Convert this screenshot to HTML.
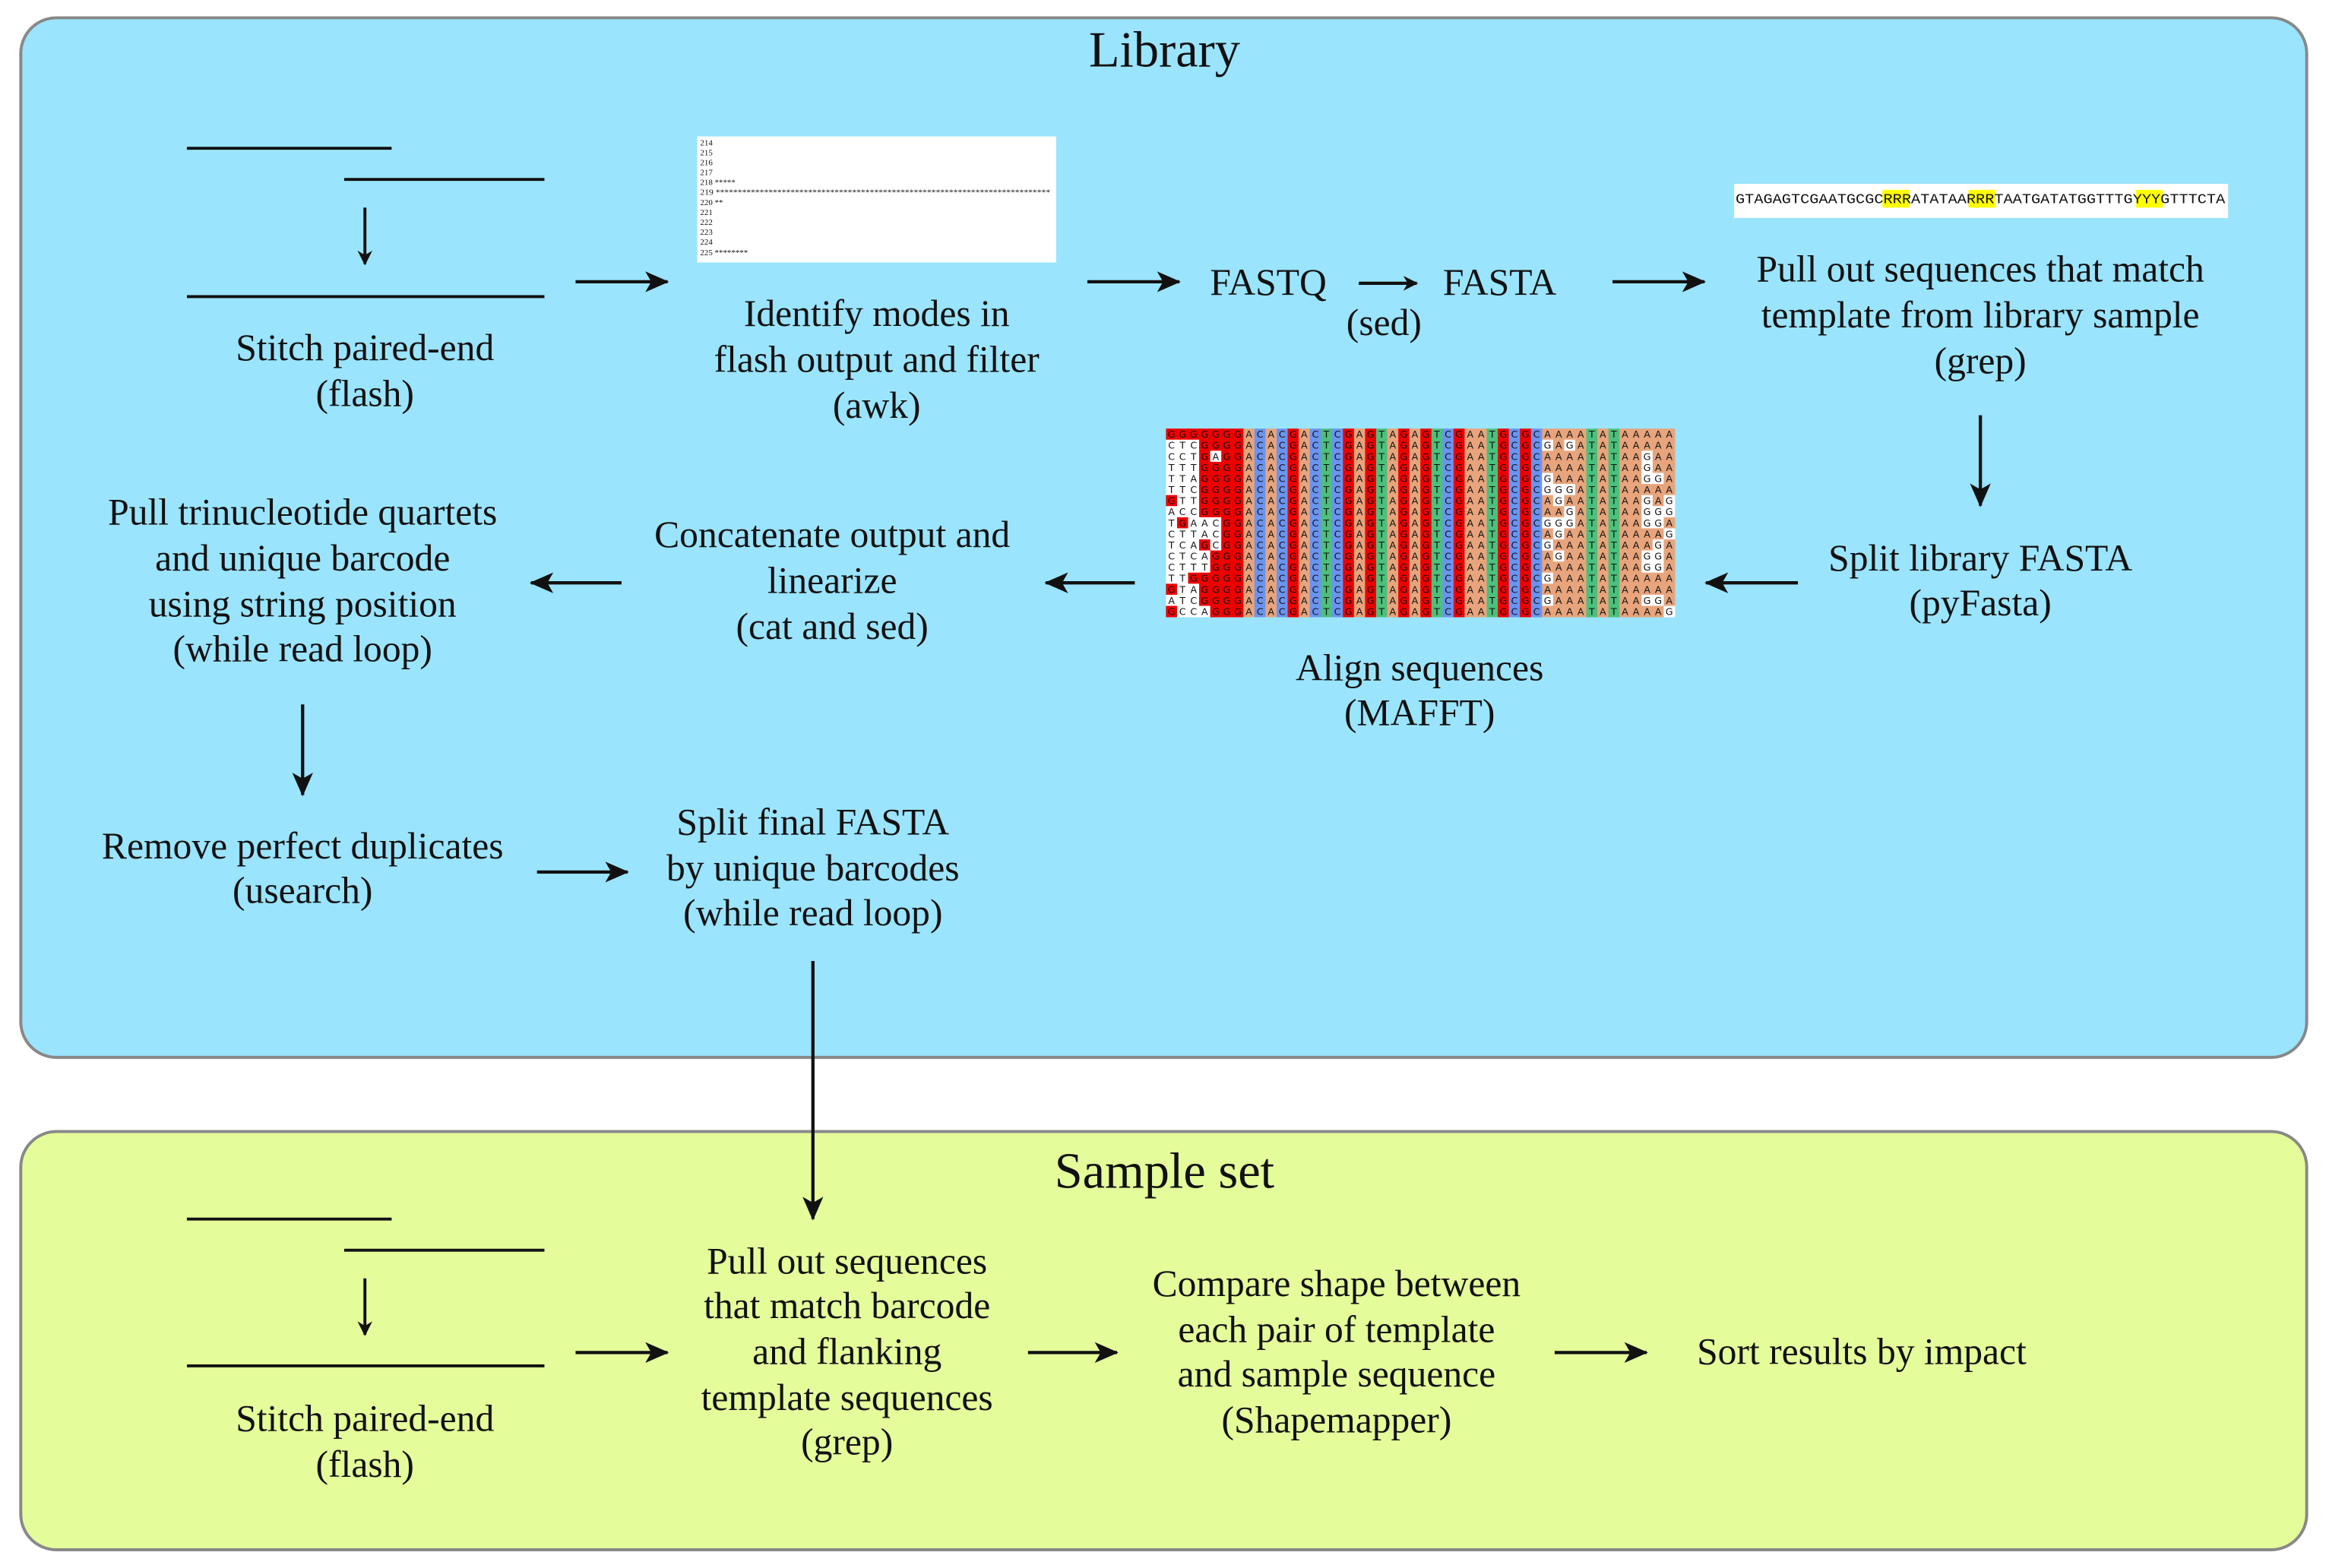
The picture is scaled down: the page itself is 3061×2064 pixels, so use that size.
<!DOCTYPE html>
<html><head><meta charset="utf-8"><style>
html,body{margin:0;padding:0;background:#fff;}
svg{display:block}
text{font-family:"Liberation Serif",serif;fill:#111;}
.t{font-size:25.4px;text-anchor:middle;dominant-baseline:middle;}
</style></head><body>
<svg id="s" width="3061" height="2064" viewBox="0 0 1568 1057.3" preserveAspectRatio="none" xmlns="http://www.w3.org/2000/svg">
<defs>
<marker id="a" markerWidth="10" markerHeight="10" refX="9" refY="5" orient="auto" markerUnits="userSpaceOnUse" viewBox="0 0 10 10">
<path d="M0,0 L10,5 L0,10 L3,5 Z" fill="#111"/></marker>
<marker id="b" markerWidth="16" markerHeight="14" refX="15" refY="7" orient="auto" markerUnits="userSpaceOnUse" viewBox="0 0 16 14">
<path d="M0,0 L16,7 L0,14 L4,7 Z" fill="#111"/></marker>
</defs>
<rect x="14" y="12" width="1541" height="701" rx="24" fill="#9ae4fd" stroke="#888" stroke-width="2"/>
<rect x="14" y="763" width="1541" height="282" rx="24" fill="#e4fc9a" stroke="#888" stroke-width="2"/>
<text class="t" x="785" y="37" style="font-size:34px">Library</text>
<text class="t" x="785" y="793" style="font-size:34px">Sample set</text>
<g stroke="#111" stroke-width="2" fill="none">
<line x1="126" y1="100" x2="264" y2="100"/><line x1="232" y1="121" x2="367" y2="121"/>
<line x1="246" y1="140" x2="246" y2="178" marker-end="url(#a)"/>
<line x1="126" y1="200" x2="367" y2="200"/>
<line x1="126" y1="822" x2="264" y2="822"/><line x1="232" y1="843" x2="367" y2="843"/>
<line x1="246" y1="862" x2="246" y2="900" marker-end="url(#a)"/>
<line x1="126" y1="921" x2="367" y2="921"/>
</g>
<g stroke="#111" stroke-width="2.2" fill="none">
<line x1="388" y1="190" x2="450" y2="190" marker-end="url(#b)"/>
<line x1="733" y1="190" x2="795" y2="190" marker-end="url(#b)"/>
<line x1="916" y1="191" x2="955" y2="191" marker-end="url(#a)"/>
<line x1="1087" y1="190" x2="1149" y2="190" marker-end="url(#b)"/>
<line x1="1335" y1="280" x2="1335" y2="341" marker-end="url(#b)"/>
<line x1="1212" y1="393" x2="1150" y2="393" marker-end="url(#b)"/>
<line x1="765" y1="393" x2="705" y2="393" marker-end="url(#b)"/>
<line x1="419" y1="393" x2="358" y2="393" marker-end="url(#b)"/>
<line x1="204" y1="475" x2="204" y2="536" marker-end="url(#b)"/>
<line x1="362" y1="588" x2="423" y2="588" marker-end="url(#b)"/>
<line x1="548" y1="648" x2="548" y2="822" marker-end="url(#b)"/>
<line x1="388" y1="912" x2="450" y2="912" marker-end="url(#b)"/>
<line x1="693" y1="912" x2="753" y2="912" marker-end="url(#b)"/>
<line x1="1048" y1="912" x2="1110" y2="912" marker-end="url(#b)"/>
</g>
<g transform="translate(0,2)">
<text class="t" x="246" y="235">Stitch paired-end</text><text class="t" x="246" y="266">(flash)</text>
<text class="t" x="591" y="212">Identify modes in</text><text class="t" x="591" y="243">flash output and filter</text><text class="t" x="591" y="274">(awk)</text>
<text class="t" x="855" y="191">FASTQ</text><text class="t" x="1011" y="191">FASTA</text><text class="t" x="933" y="218">(sed)</text>
<text class="t" x="1335" y="182">Pull out sequences that match</text><text class="t" x="1335" y="213">template from library sample</text><text class="t" x="1335" y="244">(grep)</text>
<text class="t" x="1335" y="377">Split library FASTA</text><text class="t" x="1335" y="407">(pyFasta)</text>
<text class="t" x="957" y="451">Align sequences</text><text class="t" x="957" y="481">(MAFFT)</text>
<text class="t" x="561" y="361">Concatenate output and</text><text class="t" x="561" y="392">linearize</text><text class="t" x="561" y="423">(cat and sed)</text>
<text class="t" x="204" y="346">Pull trinucleotide quartets</text><text class="t" x="204" y="377">and unique barcode</text><text class="t" x="204" y="408">using string position</text><text class="t" x="204" y="438">(while read loop)</text>
<text class="t" x="204" y="571">Remove perfect duplicates</text><text class="t" x="204" y="601">(usearch)</text>
<text class="t" x="548" y="555">Split final FASTA</text><text class="t" x="548" y="586">by unique barcodes</text><text class="t" x="548" y="616">(while read loop)</text>
<text class="t" x="246" y="957">Stitch paired-end</text><text class="t" x="246" y="988">(flash)</text>
<text class="t" x="571" y="851">Pull out sequences</text><text class="t" x="571" y="881">that match barcode</text><text class="t" x="571" y="912">and flanking</text><text class="t" x="571" y="943">template sequences</text><text class="t" x="571" y="973">(grep)</text>
<text class="t" x="901" y="866">Compare shape between</text><text class="t" x="901" y="897">each pair of template</text><text class="t" x="901" y="927">and sample sequence</text><text class="t" x="901" y="958">(Shapemapper)</text>
<text class="t" x="1255" y="912">Sort results by impact</text>
</g>
<rect x="470" y="92" width="242" height="85" fill="#fff"/>
<g style="font-family:'DejaVu Sans Mono',monospace;font-size:5.6px" fill="#222">
<text x="472" y="98">214</text><text x="472" y="104.7">215</text><text x="472" y="111.4">216</text><text x="472" y="118.1">217</text>
<text x="472" y="124.8">218 *****</text>
<text x="472" y="131.5" textLength="236" lengthAdjust="spacingAndGlyphs">219 ****************************************************************************</text>
<text x="472" y="138.2">220 **</text>
<text x="472" y="144.9">221</text><text x="472" y="151.6">222</text><text x="472" y="158.3">223</text><text x="472" y="165">224</text>
<text x="472" y="172">225 ********</text>
</g>
<rect x="1169" y="124" width="333" height="23" fill="#fff"/>
<rect x="1269" y="128" width="18" height="12" fill="#ff0"/>
<rect x="1327" y="128" width="18" height="12" fill="#ff0"/>
<rect x="1440" y="128" width="18" height="12" fill="#ff0"/>
<text x="1170" y="137" textLength="330" lengthAdjust="spacingAndGlyphs" style="font-family:'Liberation Mono',monospace;font-size:9.5px">GTAGAGTCGAATGCGCRRRATATAARRRTAATGATATGGTTTGYYYGTTTCTA</text>
<g id="aln"></g>
</svg>
<script>
(function(){
var rows=[["GGGGGGG","AAAATATAAAAA"],["CTCGGGG","GAGATATAAAAA"],["CCTGAGG","AAAATATAAGAA"],["TTTGGGG","AAAATATAAGAA"],["TTAGGGG","GAAATATAAGGA"],["TTCGGGG","GGGATATAAAAA"],["GTTGGGG","AGAATATAAGAG"],["ACCGGGG","AAGATATAAGGG"],["TGAACGG","GGGATATAAGGA"],["CTTACGG","AGAATATAAAAG"],["TCAGCGG","GAAATATAAAGA"],["CTCAGGG","AGAATATAAGGA"],["CTTTGGG","AAAATATAAGGA"],["TTGGGGG","GAAATATAAAAA"],["GTAGGGG","AAAATATAAAAA"],["ATCGGGG","GAAATATAAGGA"],["GCCAGGG","AAAATATAAAAG"]];
var mid="ACACGACTCGAGTAGAGTCGAATGCGC";
var col={A:"#e8a47c",C:"#6a94f0",G:"#ee0000",T:"#4cc07c"};
var x0=786,y0=289,w=343/46,h=127/17,s="";
for(var r=0;r<17;r++){
 var seq=rows[r][0]+mid+rows[r][1];
 for(var c=0;c<46;c++){
  var ch=seq[c],f;
  if(c<7) f=ch=="G"?col.G:"#fff";
  else if(c<34) f=col[ch];
  else f=ch=="G"?"#fff":col[ch];
  var x=x0+c*w,y=y0+r*h;
  s+='<rect x="'+x.toFixed(2)+'" y="'+y.toFixed(2)+'" width="'+(w+0.2).toFixed(2)+'" height="'+(h+0.2).toFixed(2)+'" fill="'+f+'"/>';
  var tc=(f==col.G)?"#fff":(f==col.C?"#cfe0ff":"#222");
  s+='<text x="'+(x+w/2).toFixed(2)+'" y="'+(y+h*0.82).toFixed(2)+'" text-anchor="middle" style="font-family:\'DejaVu Sans\',sans-serif;font-size:6.5px" fill="'+tc+'">'+ch+'</text>';
 }
}
document.getElementById("aln").innerHTML=s;
})();
</script>
</body></html>
